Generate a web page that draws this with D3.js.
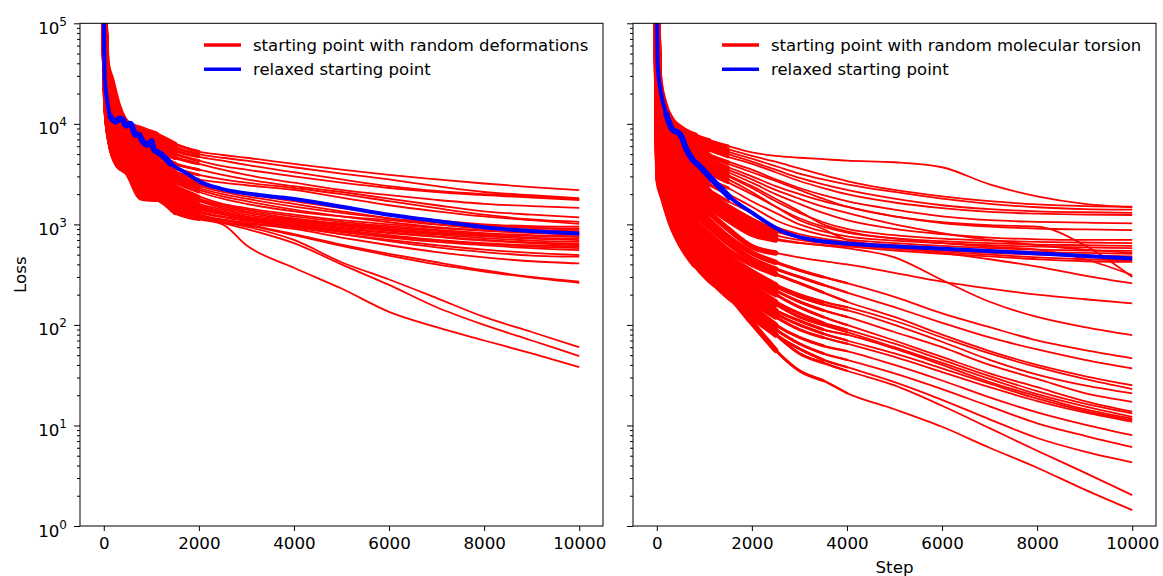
<!DOCTYPE html>
<html>
<head>
<meta charset="utf-8">
<script src="https://cdn.jsdelivr.net/npm/d3@7"></script>
<style>
  body { margin: 0; background: #fff; }
  svg { display: block; font-family: "DejaVu Sans", sans-serif; }
  .tick text { fill: #000; }
</style>
</head>
<body>
<svg id="chart" width="1163" height="576"></svg>
<script>
// Loss curves, two panels, log y axis

const xTickValues = [0, 2000, 4000, 6000, 8000, 10000];
const yTickExponents = [0, 1, 2, 3, 4, 5];

const legendDeform = ['starting point with random deformations', 'relaxed starting point'];
const legendTorsion = ['starting point with random molecular torsion', 'relaxed starting point'];

// ---- left panel: random deformations ----
const deformSteps = [0, 60, 150, 300, 500, 800, 1100, 1500, 2000, 2500, 3000, 4000, 5000, 6000, 7000, 8000, 9000, 10000];
const deformRuns = [
    [200000, 40000, 28000, 15000, 10000, 8800, 7800, 6300, 5300, 4900, 4600, 4000, 3500, 3100, 2800, 2550, 2350, 2190],
    [200000, 35000, 24000, 14000, 9500, 8000, 7200, 5800, 5000, 4600, 4300, 3700, 3200, 2800, 2400, 2100, 1950, 1820],
    [200000, 30000, 20000, 12500, 9000, 7600, 6600, 5400, 4700, 4300, 3900, 3300, 2800, 2400, 2150, 2000, 1900, 1780],
    [200000, 32000, 18000, 11000, 8200, 7000, 6000, 5000, 4300, 3800, 3500, 3000, 2600, 2300, 2100, 1950, 1850, 1745],
    [200000, 28000, 16000, 10000, 7800, 6400, 5400, 4600, 4000, 3500, 3100, 2600, 2200, 1950, 1750, 1600, 1520, 1460],
    [200000, 26000, 14000, 9000, 7000, 5600, 4800, 4000, 3500, 3100, 2800, 2400, 2100, 1800, 1550, 1350, 1250, 1175],
    [200000, 25000, 12000, 8000, 6500, 5000, 4300, 3600, 3100, 2800, 2600, 2300, 2000, 1700, 1450, 1250, 1120, 1060],
    [200000, 27000, 13000, 8500, 6800, 5300, 4000, 3300, 2800, 2600, 2450, 2200, 1850, 1550, 1350, 1200, 1100, 1010],
    [200000, 24000, 11000, 7000, 6000, 4600, 3800, 3000, 2500, 2200, 2000, 1700, 1450, 1250, 1100, 1000, 960, 947],
    [200000, 22000, 10000, 6500, 5500, 4200, 3500, 2800, 2300, 2000, 1800, 1500, 1300, 1150, 1050, 980, 930, 900],
    [200000, 21000, 9500, 6000, 5000, 3800, 3200, 2600, 2100, 1800, 1600, 1350, 1200, 1100, 1000, 930, 880, 850],
    [200000, 20000, 9000, 5500, 4600, 3500, 2900, 2400, 1900, 1600, 1450, 1250, 1100, 1000, 920, 860, 820, 790],
    [200000, 19000, 8500, 5200, 4200, 3200, 2700, 2200, 1750, 1500, 1350, 1150, 1020, 930, 860, 800, 770, 753],
    [200000, 18000, 8000, 5000, 4000, 3000, 2500, 2000, 1600, 1400, 1250, 1100, 980, 880, 810, 760, 720, 698],
    [200000, 17000, 7600, 4800, 3800, 2800, 2300, 1850, 1500, 1300, 1180, 1050, 930, 830, 760, 700, 660, 640],
    [200000, 16000, 7200, 4500, 3600, 2600, 2200, 1700, 1400, 1250, 1120, 1000, 880, 780, 700, 650, 620, 599],
    [200000, 15500, 6800, 4300, 3500, 2400, 2100, 1600, 1300, 1180, 1080, 960, 840, 740, 670, 620, 580, 555],
    [200000, 15000, 6500, 4100, 3400, 2200, 2000, 1500, 1250, 1120, 1040, 930, 800, 700, 620, 560, 520, 495],
    [200000, 23000, 10500, 6800, 5200, 4000, 3400, 2700, 2200, 1900, 1700, 1400, 1200, 1050, 940, 870, 830, 800],
    [200000, 21500, 9200, 5800, 4400, 3400, 2800, 2300, 1800, 1550, 1400, 1200, 1060, 960, 880, 820, 780, 760],
    [200000, 19500, 8800, 5400, 4100, 3100, 2600, 2100, 1700, 1450, 1300, 1120, 1000, 900, 830, 780, 740, 720],
    [200000, 18500, 8200, 5100, 3900, 2900, 2400, 1900, 1550, 1350, 1200, 1080, 960, 860, 790, 730, 690, 670],
    [200000, 17500, 7800, 4900, 3700, 2700, 2250, 1800, 1450, 1280, 1150, 1030, 910, 820, 750, 690, 650, 620],
    [200000, 25000, 12500, 7500, 5800, 4400, 3600, 2900, 2400, 2100, 1900, 1600, 1350, 1150, 1000, 900, 860, 840],
    [200000, 26000, 13500, 8200, 6200, 4800, 3900, 3100, 2600, 2250, 2050, 1750, 1500, 1250, 1080, 980, 920, 880],
    [200000, 16500, 7000, 4400, 3550, 2500, 2150, 1650, 1350, 1200, 1100, 980, 860, 760, 690, 640, 600, 580],
    [200000, 15000, 6300, 4000, 3300, 2000, 1850, 1400, 1200, 1100, 1020, 900, 740, 620, 530, 470, 430, 409],
    [200000, 14500, 6500, 4200, 3400, 2100, 1900, 1450, 1220, 1100, 1000, 800, 630, 510, 420, 350, 300, 270],
    [200000, 16000, 6800, 4100, 3350, 1900, 1800, 1350, 1150, 1050, 980, 780, 610, 490, 400, 340, 295, 262],
    [200000, 17000, 7200, 4600, 3700, 2600, 2200, 1800, 1500, 1300, 1150, 950, 800, 680, 590, 530, 490, 477],
    [200000, 14000, 6300, 3900, 3300, 1850, 1800, 1300, 1120, 1000, 620, 370, 230, 135, 95, 70, 52, 38],
    [200000, 15000, 6600, 4200, 3400, 2000, 1900, 1400, 1200, 1050, 950, 700, 420, 283, 185, 120, 85, 60],
    [200000, 14800, 6400, 4000, 3300, 1950, 1850, 1350, 1180, 1030, 900, 650, 400, 250, 150, 100, 70, 49]
];
const deformBlueSteps = [0, 20, 70, 140, 250, 330, 400, 460, 560, 670, 740, 800, 910, 1000, 1050, 1200, 1400, 1750, 2035, 2455, 3300, 3930, 5000, 6035, 7000, 8140, 10000];
const deformBlue = [150000, 29000, 17300, 11800, 10500, 11300, 11000, 9600, 10000, 7800, 7800, 6900, 6200, 6700, 5600, 5000, 4050, 3200, 2630, 2270, 1950, 1810, 1500, 1240, 1080, 920, 812];

// ---- right panel: random molecular torsion ----
const torsionSteps = [0, 40, 150, 300, 500, 800, 1100, 1500, 2000, 2500, 3000, 3500, 4000, 5000, 6000, 7000, 8000, 9000, 10000];
const torsionRuns = [
    [200000, 30000, 16000, 11000, 9000, 7600, 6800, 6000, 5200, 4800, 4600, 4450, 4300, 4150, 3700, 2500, 1900, 1600, 1480],
    [200000, 28000, 15000, 10000, 8500, 7200, 6500, 5600, 4800, 4200, 3600, 3100, 2700, 2200, 1900, 1700, 1580, 1520, 1500],
    [200000, 26000, 14000, 9500, 8000, 7000, 6200, 5300, 4500, 3800, 3200, 2800, 2500, 2100, 1800, 1600, 1480, 1420, 1400],
    [200000, 25000, 13000, 9000, 7500, 6600, 5800, 5000, 4200, 3500, 2900, 2500, 2200, 1800, 1550, 1420, 1350, 1320, 1300],
    [200000, 24000, 12000, 8500, 7000, 6200, 5500, 4700, 4000, 3300, 2700, 2300, 2000, 1650, 1450, 1330, 1280, 1250, 1240],
    [200000, 22000, 11000, 8000, 6500, 5600, 4900, 4200, 3500, 2800, 2300, 1950, 1700, 1400, 1200, 1100, 1060, 1040, 1025],
    [200000, 20000, 10000, 7000, 6000, 5000, 4400, 3700, 3000, 2400, 2000, 1700, 1500, 1200, 1030, 950, 910, 890, 877],
    [200000, 18000, 9000, 6500, 5500, 4600, 4000, 3300, 2600, 2000, 1600, 1300, 1100, 900, 800, 740, 710, 700, 700],
    [200000, 17000, 8500, 6000, 5000, 4200, 3600, 3000, 2300, 1700, 1300, 1050, 900, 780, 720, 690, 670, 660, 650],
    [200000, 16000, 8000, 5500, 4500, 3800, 3200, 2600, 2000, 1500, 1150, 950, 830, 730, 680, 650, 630, 620, 610],
    [200000, 15000, 7500, 5200, 4200, 3400, 2800, 2300, 1700, 1300, 1000, 850, 760, 690, 650, 620, 600, 590, 580],
    [200000, 14000, 7000, 4800, 3900, 3100, 2500, 2000, 1500, 1100, 900, 780, 710, 650, 610, 580, 560, 550, 545],
    [200000, 13000, 6500, 4400, 3600, 2800, 2200, 1700, 1300, 950, 800, 720, 670, 620, 580, 550, 530, 520, 510],
    [200000, 12000, 6000, 4000, 3300, 2500, 2000, 1500, 1100, 850, 740, 680, 640, 590, 550, 520, 500, 490, 480],
    [200000, 11000, 5500, 3700, 3000, 2200, 1800, 1350, 1000, 780, 700, 650, 620, 570, 530, 500, 470, 450, 440],
    [200000, 10000, 5000, 3400, 2700, 2000, 1600, 1200, 900, 720, 660, 620, 600, 550, 510, 480, 450, 430, 425],
    [200000, 19000, 9500, 6800, 5800, 4800, 4200, 3500, 2800, 2200, 1800, 1500, 1300, 1000, 820, 700, 620, 560, 520],
    [200000, 21000, 10500, 7500, 6200, 5300, 4700, 4000, 3300, 2700, 2200, 1800, 1500, 1200, 1050, 980, 950, 620, 300],
    [200000, 16500, 8200, 5800, 4800, 4000, 3400, 2800, 2100, 1500, 1100, 900, 700, 600, 520, 450, 380, 310, 259],
    [200000, 17500, 8800, 6200, 5200, 4400, 3800, 3100, 2400, 1800, 1350, 1000, 850, 720, 650, 600, 560, 450, 313],
    [200000, 9000, 4500, 3000, 2300, 1700, 1300, 900, 600, 520, 470, 430, 400, 330, 270, 230, 200, 180, 164],
    [200000, 9500, 4800, 3300, 2600, 2000, 1500, 1100, 800, 700, 650, 620, 580, 470, 280, 170, 120, 95, 79],
    [200000, 8500, 4200, 2800, 2100, 1500, 1100, 750, 520, 420, 350, 300, 260, 190, 130, 95, 70, 56, 46.5],
    [200000, 8000, 4000, 2600, 1900, 1300, 950, 650, 450, 360, 300, 250, 210, 150, 105, 75, 57, 45, 36.9],
    [200000, 7500, 3700, 2400, 1700, 1100, 800, 550, 400, 320, 260, 210, 170, 120, 80, 55, 40, 31, 25.1],
    [200000, 7000, 3500, 2200, 1500, 1000, 700, 480, 340, 250, 200, 170, 150, 110, 75, 52, 38, 29, 23],
    [200000, 6500, 3200, 2000, 1400, 900, 650, 450, 320, 240, 190, 160, 140, 100, 68, 45, 32, 25, 20.8],
    [200000, 6000, 3000, 1800, 1250, 800, 600, 420, 300, 220, 170, 140, 120, 85, 60, 40, 29, 21, 17.2],
    [200000, 5500, 2800, 1700, 1150, 750, 550, 380, 270, 200, 150, 120, 100, 70, 48, 33, 24, 17.5, 13.7],
    [200000, 5000, 2600, 1600, 1050, 700, 500, 350, 240, 170, 130, 105, 90, 65, 45, 31, 22, 16.5, 13.2],
    [200000, 4800, 2500, 1500, 1000, 650, 450, 320, 220, 160, 120, 100, 85, 60, 42, 29, 20.5, 15.5, 12.2],
    [200000, 4500, 2400, 1450, 950, 620, 420, 300, 200, 140, 110, 90, 80, 58, 40, 27, 19.5, 14.5, 11.7],
    [200000, 4200, 2300, 1400, 900, 580, 380, 280, 190, 130, 100, 82, 70, 52, 37, 26, 18.5, 14, 11.3],
    [200000, 4000, 2200, 1300, 850, 550, 360, 260, 170, 120, 90, 75, 65, 48, 34, 24, 17.5, 13.5, 10.9],
    [200000, 3800, 2100, 1250, 800, 520, 340, 240, 150, 100, 75, 62, 55, 40, 28, 19, 13.5, 10.2, 8.0],
    [200000, 3500, 2000, 1200, 750, 480, 320, 220, 135, 90, 65, 52, 45, 33, 23, 15.5, 10.5, 7.9, 6.1],
    [200000, 3200, 1900, 1100, 700, 450, 300, 200, 120, 80, 58, 45, 38, 27, 18, 11.5, 7.5, 5.5, 4.3],
    [200000, 3000, 1800, 1100, 680, 420, 290, 190, 130, 80, 52, 42, 35, 25, 15.7, 9.4, 5.6, 3.4, 2.03],
    [200000, 2800, 1800, 1050, 650, 400, 280, 200, 105, 56, 35, 28, 21, 14.5, 9.7, 6.0, 3.8, 2.3, 1.44]
];
const torsionBlueSteps = [0, 20, 92, 197, 337, 450, 530, 600, 758, 900, 1110, 1530, 2020, 2590, 3150, 4480, 5500, 7350, 10000];
const torsionBlue = [150000, 37000, 20000, 12600, 8660, 8200, 7300, 5900, 4380, 3800, 2970, 1870, 1290, 875, 720, 622, 590, 533, 458];

// ---- layout ----
const svg = d3.select('#chart');
const plotTop = 23.3, plotBottom = 526;
const fontSize = 16.7;

// the early part of every run is very noisy; drawn as wider strokes over these step ranges
// (at/below: only runs whose value at step `at` is under `below`)
const deformNoise = [
    { from: 0, to: 2000, width: 3 },
    { from: 0, to: 1500, width: 4.5 },
    { from: 0, to: 1100, width: 6.5 }
];
const torsionNoise = [
    { from: 0, to: 1500, width: 3.2 },
    { from: 0, to: 1100, width: 5 },
    { from: 0, to: 800, width: 7 },
    { from: 0, to: 2500, width: 5.5, at: 2500, below: 900 },
    { from: 0, to: 3500, width: 3, at: 2500, below: 500 },
    { from: 0, to: 4000, width: 2.3, at: 2500, below: 500 }
];
const deformBlueNoise = { from: 100, to: 1500, width: 6 };
const torsionBlueNoise = { from: 150, to: 2000, width: 6 };

const panels = [
    { x0: 80, x1: 603, steps: deformSteps, runs: deformRuns, blueSteps: deformBlueSteps, blue: deformBlue,
      legend: legendDeform, legendX: 204, yLabels: true, noise: deformNoise, blueNoise: deformBlueNoise },
    { x0: 633, x1: 1156, steps: torsionSteps, runs: torsionRuns, blueSteps: torsionBlueSteps, blue: torsionBlue,
      legend: legendTorsion, legendX: 722, yLabels: false, noise: torsionNoise, blueNoise: torsionBlueNoise }
];

const y = d3.scaleLog().domain([1, 1e5]).range([plotBottom, plotTop]);

// minor tick positions 2..9 in every decade
const minorTicks = [];
yTickExponents.slice(0, -1).forEach(e => {
    for (let m = 2; m <= 9; m++) minorTicks.push(m * Math.pow(10, e));
});

panels.forEach((p, pi) => {
    const x = d3.scaleLinear().domain([-500, 10500]).range([p.x0, p.x1]);
    const g = svg.append('g');

    const clipId = 'clip' + pi;
    svg.append('clipPath').attr('id', clipId)
        .append('rect')
        .attr('x', p.x0).attr('y', plotTop)
        .attr('width', p.x1 - p.x0).attr('height', plotBottom - plotTop);

    const line = d3.line().x(d => x(d[0])).y(d => y(d[1])).curve(d3.curveMonotoneX);
    const plot = g.append('g').attr('clip-path', `url(#${clipId})`);

    const runPoints = p.runs.map(vals => p.steps.map((s, i) => [s, vals[i]]));

    plot.selectAll('.run')
        .data(runPoints)
        .join('path')
        .attr('class', 'run')
        .attr('fill', 'none')
        .attr('stroke', '#ff0000')
        .attr('stroke-width', 1.8)
        .attr('stroke-linejoin', 'round')
        .attr('d', line);

    // noisy early section
    p.noise.forEach(n => {
        const idx = n.at !== undefined ? p.steps.indexOf(n.at) : -1;
        const runs = idx >= 0 ? runPoints.filter(pts => pts[idx][1] < n.below) : runPoints;
        plot.append('g').selectAll('path')
            .data(runs)
            .join('path')
            .attr('fill', 'none')
            .attr('stroke', '#ff0000')
            .attr('stroke-width', n.width)
            .attr('stroke-linejoin', 'round')
            .attr('stroke-linecap', 'round')
            .attr('d', pts => line(pts.filter(d => d[0] >= n.from && d[0] <= n.to)));
    });

    const bluePoints = p.blueSteps.map((s, i) => [s, p.blue[i]]);
    plot.append('path')
        .attr('fill', 'none')
        .attr('stroke', '#0000ff')
        .attr('stroke-width', 4)
        .attr('stroke-linejoin', 'round')
        .attr('d', line(bluePoints));
    plot.append('path')
        .attr('fill', 'none')
        .attr('stroke', '#0000ff')
        .attr('stroke-width', p.blueNoise.width)
        .attr('stroke-linejoin', 'round')
        .attr('stroke-linecap', 'round')
        .attr('d', line(bluePoints.filter(d => d[0] >= p.blueNoise.from && d[0] <= p.blueNoise.to)));

    // axes
    const xAxis = g.append('g')
        .attr('transform', `translate(0,${plotBottom})`)
        .call(d3.axisBottom(x).tickValues(xTickValues).tickSize(5).tickPadding(6).tickFormat(d3.format('d')));
    xAxis.select('.domain').remove();
    xAxis.selectAll('text').attr('font-size', fontSize).attr('font-family', 'DejaVu Sans');

    const yAxis = g.append('g')
        .attr('transform', `translate(${p.x0},0)`)
        .call(d3.axisLeft(y).tickValues(yTickExponents.map(e => Math.pow(10, e))).tickSize(6).tickPadding(7).tickFormat(''));
    yAxis.select('.domain').remove();

    if (p.yLabels) {
        yAxis.selectAll('.tick text')
            .attr('font-size', fontSize)
            .attr('font-family', 'DejaVu Sans')
            .attr('dy', '0.6em')
            .each(function(d) {
                const t = d3.select(this);
                t.append('tspan').text('10');
                t.append('tspan').attr('dy', -8).attr('font-size', 12).text(Math.round(Math.log10(d)));
            });
    }

    const yMinor = g.append('g')
        .attr('transform', `translate(${p.x0},0)`)
        .call(d3.axisLeft(y).tickValues(minorTicks).tickSize(3).tickFormat(''));
    yMinor.select('.domain').remove();

    g.selectAll('.tick line').attr('stroke', '#000').attr('stroke-width', 1);

    // frame
    g.append('rect')
        .attr('x', p.x0).attr('y', plotTop)
        .attr('width', p.x1 - p.x0).attr('height', plotBottom - plotTop)
        .attr('fill', 'none').attr('stroke', '#000').attr('stroke-width', 1);

    // legend
    const colors = ['#ff0000', '#0000ff'];
    const leg = g.append('g');
    p.legend.forEach((label, i) => {
        const ly = 45 + i * 24.3;
        leg.append('line')
            .attr('x1', p.legendX).attr('x2', p.legendX + 37)
            .attr('y1', ly).attr('y2', ly)
            .attr('stroke', colors[i]).attr('stroke-width', 3.5);
        leg.append('text')
            .attr('x', p.legendX + 49).attr('y', ly)
            .attr('dy', '0.35em')
            .attr('font-size', 16.5)
            .text(label);
    });
});

// axis titles
svg.append('text')
    .attr('transform', `translate(26,${(plotTop + plotBottom) / 2}) rotate(-90)`)
    .attr('text-anchor', 'middle')
    .attr('font-size', fontSize)
    .text('Loss');

svg.append('text')
    .attr('x', (633 + 1156) / 2)
    .attr('y', 573)
    .attr('text-anchor', 'middle')
    .attr('font-size', fontSize)
    .text('Step');
</script>
</body>
</html>
